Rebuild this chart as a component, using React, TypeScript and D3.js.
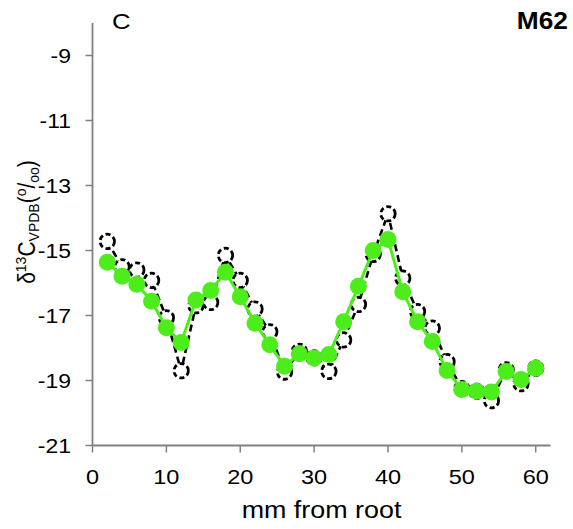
import React from "react";
import * as d3 from "d3";

const positions = [2, 4, 6, 8, 10, 12, 14, 16, 18, 20, 22, 24, 26, 28, 30, 32, 34, 36, 38, 40, 42, 44, 46, 48, 50, 52, 54, 56, 58, 60];
const dashedValues = [-14.72, -15.5, -15.6, -15.92, -17.07, -18.7, -16.7, -16.6, -15.15, -15.92, -16.8, -17.5, -18.74, -18.1, -18.3, -18.72, -17.75, -16.66, -15.12, -13.87, -15.85, -16.88, -17.39, -18.42, -19.25, -19.33, -19.62, -18.67, -19.1, -18.62];
const greenValues = [-15.36, -15.79, -16.04, -16.56, -17.38, -17.83, -16.52, -16.23, -15.67, -16.42, -17.24, -17.9, -18.56, -18.18, -18.31, -18.2, -17.19, -16.1, -15.0, -14.66, -16.27, -17.19, -17.8, -18.69, -19.28, -19.33, -19.35, -18.72, -18.97, -18.62];
const xTicks = [0, 10, 20, 30, 40, 50, 60];
const yTicks = [-21, -19, -17, -15, -13, -11, -9];

const FONT = "'Liberation Sans', Arial, Helvetica, sans-serif";
const SX = 1.12;

export default function App() {
  const x = d3.scaleLinear().domain([0, 62]).range([92.5, 550.5]);
  const y = d3.scaleLinear().domain([-21, -8]).range([445.5, 23]);
  const dashedPts: [number, number][] = positions.map((p, i) => [p, dashedValues[i]]);
  const greenPts: [number, number][] = positions.map((p, i) => [p, greenValues[i]]);
  const line = d3.line<[number, number]>().x((d) => x(d[0])).y((d) => y(d[1]));
  const axisColor = "#808080";
  const green = "#4ded1b";

  return (
    <svg width={573} height={529} style={{ position: "absolute", left: 0, top: 0, background: "#fff" }} fontFamily={FONT}>
      {/* axes */}
      <line x1={x(0)} x2={x(0)} y1={y(-8)} y2={y(-21)} stroke={axisColor} strokeWidth={1.8} />
      <line x1={x(0)} x2={x(62)} y1={y(-21)} y2={y(-21)} stroke={axisColor} strokeWidth={1.8} />
      {yTicks.map((t) => (
        <g key={"y" + t}>
          <line x1={x(0) - 7} x2={x(0)} y1={y(t)} y2={y(t)} stroke={axisColor} strokeWidth={1.5} />
          <text transform={`translate(71,${y(t) + 7.5}) scale(${SX},1)`} textAnchor="end" fontSize={20.5} fill="#000">{t}</text>
        </g>
      ))}
      {xTicks.map((t) => (
        <g key={"x" + t}>
          <line x1={x(t)} x2={x(t)} y1={y(-21)} y2={y(-21) + 7} stroke={axisColor} strokeWidth={1.5} />
          <text transform={`translate(${x(t)},483.5) scale(${SX},1)`} textAnchor="middle" fontSize={21} fill="#000">{t}</text>
        </g>
      ))}
      {/* axis titles */}
      <text transform={`translate(321.5,518) scale(${SX},1)`} textAnchor="middle" fontSize={24} fill="#000">mm from root</text>
      <text transform={`translate(35,222) rotate(-90) scale(1,1.1)`} textAnchor="middle" fontSize={21} fill="#000">
        <tspan>δ</tspan>
        <tspan dy={-8} fontSize={14}>13</tspan>
        <tspan dy={8}>C</tspan>
        <tspan dy={4} fontSize={14}>VPDB</tspan>
        <tspan dy={-4}>(</tspan>
        <tspan dy={-8} fontSize={14}>o</tspan>
        <tspan dy={8}>/</tspan>
        <tspan dy={4} fontSize={14}>oo</tspan>
        <tspan dy={-4}>)</tspan>
      </text>
      {/* panel labels */}
      <text transform={`translate(112,28.5) scale(${SX},1)`} fontSize={23} fill="#000">C</text>
      <text transform={`translate(568,28.5) scale(${SX},1)`} textAnchor="end" fontSize={23.5} fontWeight="bold" fill="#000">M62</text>
      {/* dashed series */}
      <path d={line(dashedPts) || ""} fill="none" stroke="#000" strokeWidth={2.6} strokeDasharray="7,4" />
      {dashedPts.map((d, i) => (
        <circle key={"d" + i} cx={x(d[0])} cy={y(d[1])} r={7.2} fill="#fff" stroke="#000" strokeWidth={2.8} strokeDasharray="5,3" />
      ))}
      {/* green series */}
      <path d={line(greenPts) || ""} fill="none" stroke={green} strokeWidth={3} />
      {greenPts.map((d, i) => (
        <circle key={"g" + i} cx={x(d[0])} cy={y(d[1])} r={8.5} fill={green} />
      ))}
    </svg>
  );
}
